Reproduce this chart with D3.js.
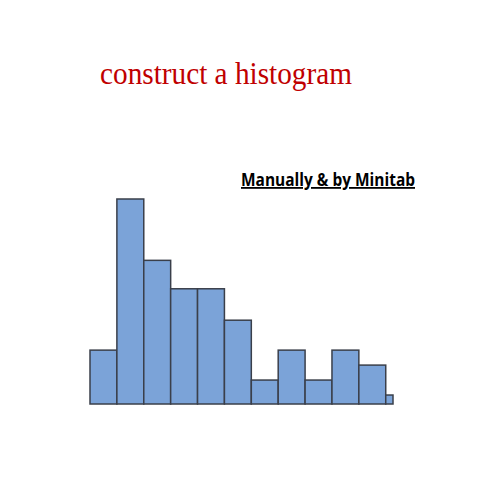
<!DOCTYPE html>
<html><head><meta charset="utf-8">
<script src="https://cdn.jsdelivr.net/npm/d3@7"></script>
<style>body{margin:0;background:#fff}</style>
</head><body>
<script>
// bin edges (in bin units) and bar heights
const binEdges = [0, 1, 2, 3, 4, 5, 6, 7, 8, 9, 10, 11, 11.27];
const counts = [3.6, 13.7, 9.6, 7.7, 7.7, 5.6, 1.6, 3.6, 1.6, 3.6, 2.6, 0.6];

const svg = d3.select('body').append('svg')
  .attr('width', 480).attr('height', 480);

const x = d3.scaleLinear().domain([0, 11.27]).range([90, 393]);
const y = d3.scaleLinear().domain([0, 13.7]).range([404, 199]);

svg.selectAll('rect.bar')
  .data(counts)
  .join('rect')
  .attr('class', 'bar')
  .attr('x', (d, i) => x(binEdges[i]))
  .attr('width', (d, i) => x(binEdges[i + 1]) - x(binEdges[i]))
  .attr('y', d => y(d))
  .attr('height', d => y(0) - y(d))
  .attr('fill', '#7ba3d8')
  .attr('stroke', '#3a3f4a')
  .attr('stroke-width', 1.5);

svg.append('text')
  .attr('x', 100).attr('y', 84)
  .attr('font-family', 'Liberation Serif, serif')
  .attr('font-size', 32)
  .attr('textLength', 252)
  .attr('lengthAdjust', 'spacingAndGlyphs')
  .attr('fill', '#c00000')
  .text('construct a histogram');

svg.append('text')
  .attr('x', 241).attr('y', 186)
  .attr('font-family', 'Open Sans, sans-serif')
  .attr('font-weight', 'bold')
  .attr('font-size', 18)
  .attr('textLength', 174)
  .attr('lengthAdjust', 'spacingAndGlyphs')
  .attr('text-decoration', 'underline')
  .attr('fill', '#000')
  .text('Manually & by Minitab');
</script>
</body></html>
